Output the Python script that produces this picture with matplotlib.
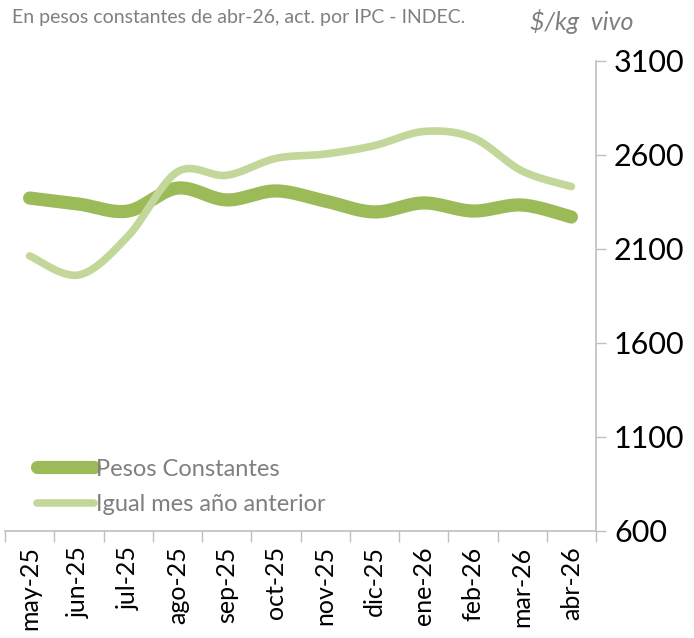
import numpy as np
import matplotlib.pyplot as plt

meses = ['may-25', 'jun-25', 'jul-25', 'ago-25', 'sep-25', 'oct-25',
         'nov-25', 'dic-25', 'ene-26', 'feb-26', 'mar-26', 'abr-26']
pesos_constantes = [2371, 2339, 2302, 2424, 2361, 2409,
                    2355, 2297, 2345, 2302, 2334, 2270]
igual_mes_anterior = [2063, 1962, 2169, 2510, 2492, 2582,
                      2605, 2650, 2725, 2692, 2515, 2432]


def suavizar(y, n=30):
    # catmull-rom, parecido a la linea suavizada de excel
    y = np.asarray(y, float)
    x = np.arange(len(y), dtype=float)
    P = np.column_stack([x, y])
    P = np.vstack([P[0], P, P[-1]])
    out = []
    t = np.linspace(0, 1, n)[:, None]
    for i in range(1, len(P) - 2):
        p0, p1, p2, p3 = P[i - 1], P[i], P[i + 1], P[i + 2]
        seg = 0.5 * ((2 * p1) + (-p0 + p2) * t
                     + (2 * p0 - 5 * p1 + 4 * p2 - p3) * t ** 2
                     + (-p0 + 3 * p1 - 3 * p2 + p3) * t ** 3)
        out.append(seg)
    seg = np.vstack(out)
    return seg[:, 0], seg[:, 1]


plt.rcParams['font.family'] = ['Lato', 'DejaVu Sans']
fig = plt.figure(figsize=(6.94, 6.38), dpi=100)
ax = fig.add_axes([5 / 694, 1 - 531 / 638, 591 / 694, 470 / 638])

x1, y1 = suavizar(pesos_constantes)
x2, y2 = suavizar(igual_mes_anterior)
ax.plot(x1, y1, color='#9BBB59', lw=9.5, solid_capstyle='round', label='Pesos Constantes')
ax.plot(x2, y2, color='#C4D79B', lw=5.5, solid_capstyle='round', label='Igual mes año anterior')

ax.set_xlim(-0.5, len(meses) - 0.5)
ax.set_ylim(600, 3100)
ax.set_yticks(range(600, 3101, 500))
ax.yaxis.tick_right()
ax.tick_params(axis='y', direction='out', length=7, width=1, color='#BFBFBF',
               labelsize=22, labelcolor='black', pad=6)

ax.set_xticks(range(len(meses)))
ax.set_xticklabels(meses, rotation=90, fontsize=18)
ax.set_xticks(np.arange(-0.5, len(meses), 1), minor=True)
ax.tick_params(axis='x', which='major', length=0, pad=11)
ax.tick_params(axis='x', which='minor', length=8, width=1, color='#BFBFBF')

for s in ['top', 'left']:
    ax.spines[s].set_visible(False)
for s in ['right', 'bottom']:
    ax.spines[s].set_color('#BFBFBF')
    ax.spines[s].set_linewidth(1.2)

leg = ax.legend(loc='center left', bbox_to_anchor=(0.054, 0.094), frameon=False,
                fontsize=17, handlelength=2.4, handletextpad=0.1, labelspacing=0.6,
                borderpad=0, borderaxespad=0)
for t in leg.get_texts():
    t.set_color('#7F7F7F')
for h in leg.legend_handles:
    h.set_solid_capstyle('round')

fig.text(12 / 694, 1 - 17 / 638, 'En pesos constantes de abr-26, act. por IPC - INDEC.',
         fontsize=14, color='#7F7F7F', va='center', ha='left')
fig.text(530 / 694, 1 - 21 / 638, '$/kg  vivo', fontsize=18, color='#7F7F7F',
         style='italic', va='center', ha='left')

fig.savefig('out.png', dpi=100)
